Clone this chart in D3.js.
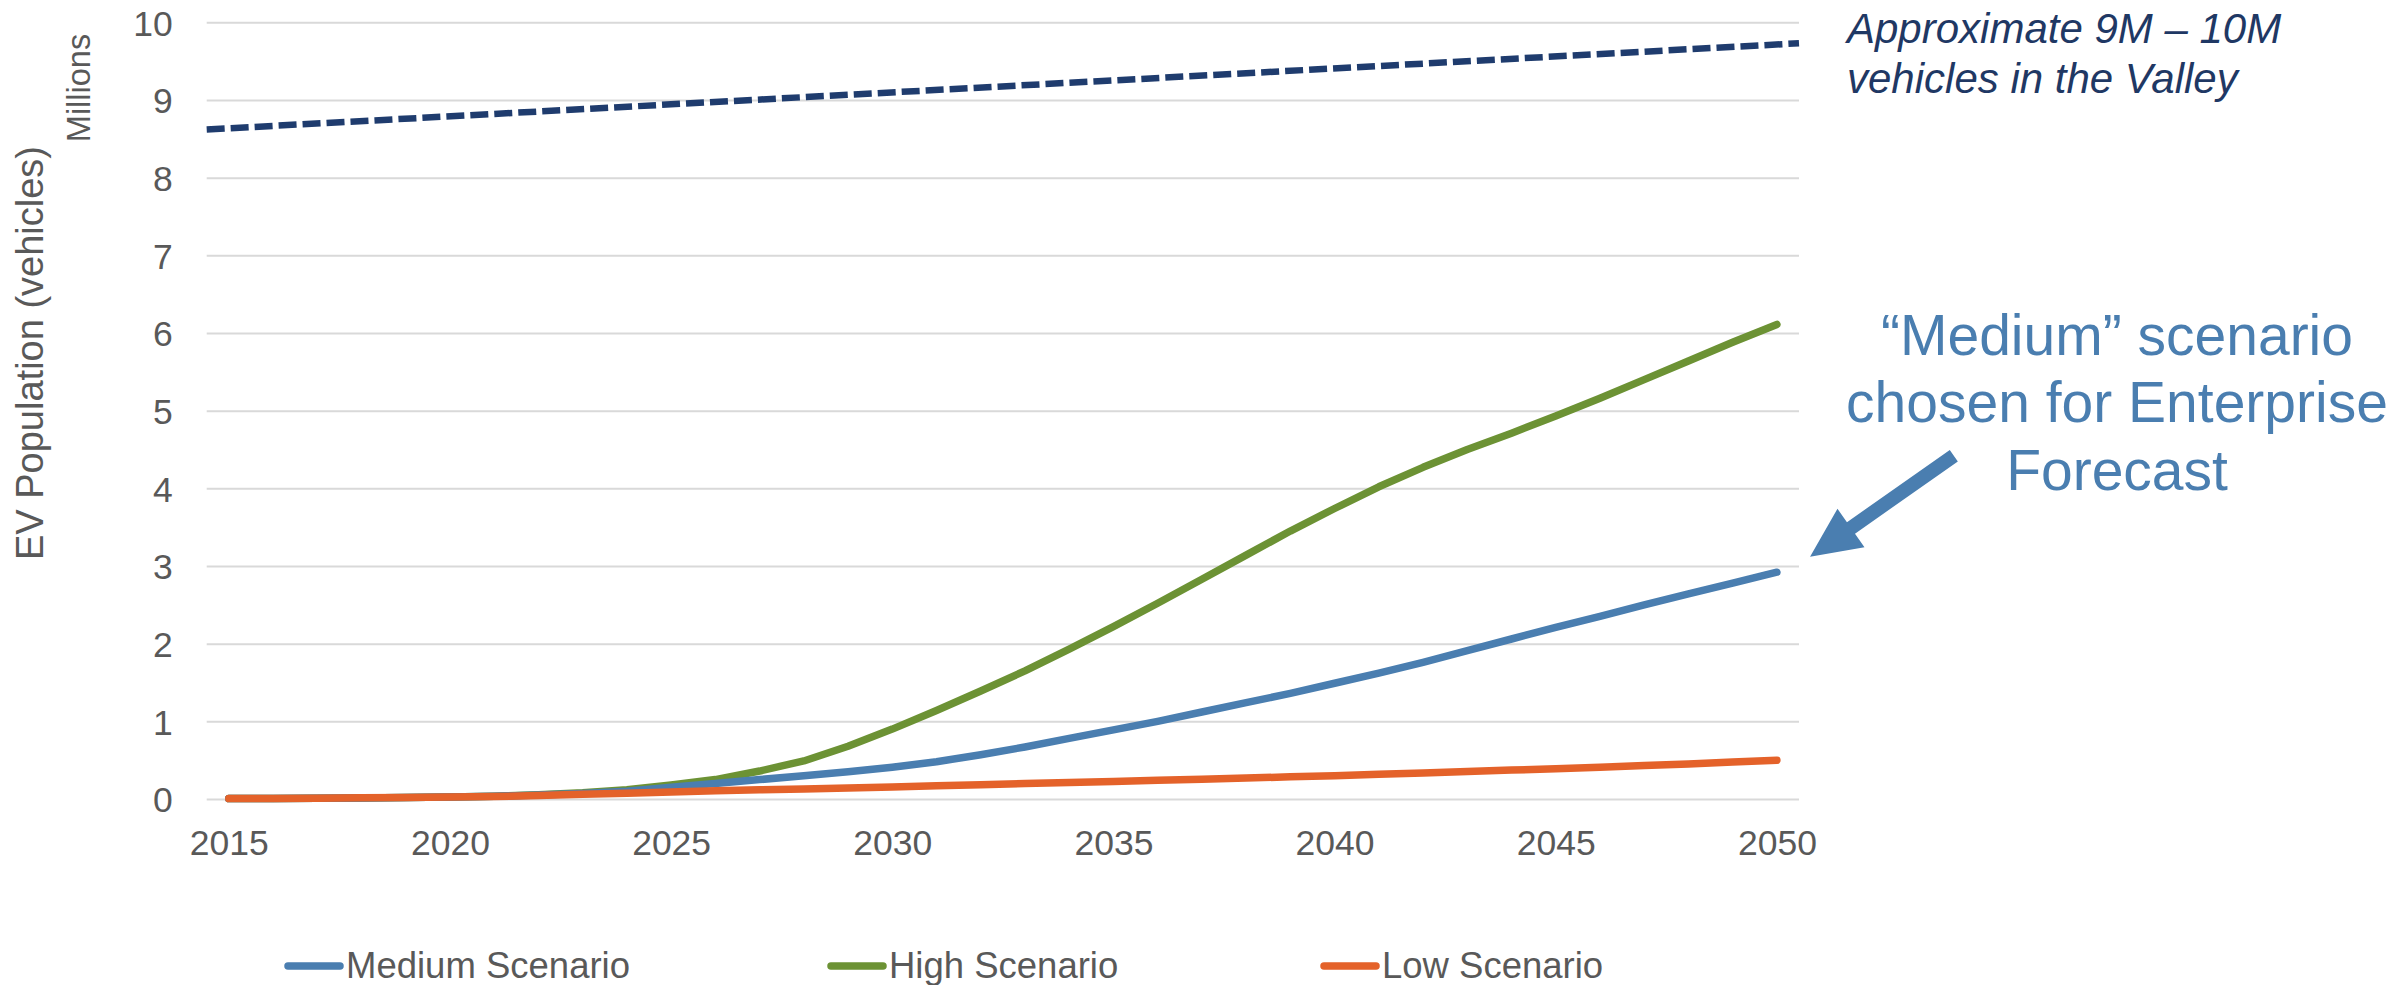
<!DOCTYPE html>
<html>
<head>
<meta charset="utf-8">
<script src="https://cdn.jsdelivr.net/npm/d3@7"></script>
<style>
  html, body { margin: 0; padding: 0; background: #ffffff; }
  svg { display: block; font-family: "Liberation Sans", Arial, sans-serif; }
</style>
</head>
<body>
<svg id="chart" width="2407" height="985"></svg>
<script>
// Forecast years (category axis)
const years = [2015, 2016, 2017, 2018, 2019, 2020, 2021, 2022, 2023, 2024,
               2025, 2026, 2027, 2028, 2029, 2030, 2031, 2032, 2033, 2034,
               2035, 2036, 2037, 2038, 2039, 2040, 2041, 2042, 2043, 2044,
               2045, 2046, 2047, 2048, 2049, 2050];

// EV population by scenario, millions of vehicles
const mediumScenario = [0.005, 0.007, 0.010, 0.014, 0.019, 0.025, 0.035, 0.050, 0.070, 0.100,
                        0.150, 0.200, 0.250, 0.300, 0.350, 0.410, 0.480, 0.570, 0.670, 0.780,
                        0.890, 1.000, 1.120, 1.240, 1.360, 1.490, 1.620, 1.760, 1.910, 2.060,
                        2.210, 2.350, 2.500, 2.640, 2.780, 2.920];
const highScenario   = [0.005, 0.007, 0.010, 0.014, 0.019, 0.025, 0.035, 0.055, 0.080, 0.120,
                        0.180, 0.250, 0.360, 0.490, 0.680, 0.900, 1.140, 1.390, 1.650, 1.930,
                        2.220, 2.520, 2.830, 3.140, 3.450, 3.740, 4.020, 4.270, 4.500, 4.710,
                        4.930, 5.160, 5.400, 5.640, 5.880, 6.110];
const lowScenario    = [0.005, 0.008, 0.011, 0.015, 0.020, 0.025, 0.032, 0.045, 0.060, 0.075,
                        0.090, 0.105, 0.118, 0.130, 0.142, 0.155, 0.170, 0.185, 0.198, 0.212,
                        0.226, 0.240, 0.255, 0.270, 0.285, 0.300, 0.318, 0.336, 0.354, 0.372,
                        0.390, 0.410, 0.430, 0.450, 0.475, 0.500];

// Total vehicles in the Valley (reference line across the plot), millions
const valleyYears  = [2014.5, 2050.5];
const valleyTotals = [8.62, 9.73];

// Axis ticks
const yTicks = [0, 1, 2, 3, 4, 5, 6, 7, 8, 9, 10];
const xTickYears = [2015, 2020, 2025, 2030, 2035, 2040, 2045, 2050];

const seriesNames  = ["Medium Scenario", "High Scenario", "Low Scenario"];
const seriesColors = ["#4a7eb0", "#6c9234", "#e4622a"];
const seriesValues = [mediumScenario, highScenario, lowScenario];

const svg = d3.select("#chart");
const textGray = "#595959";
const plot = { left: 206.7, right: 1799, top: 22.3, bottom: 799 };

const x = d3.scaleLinear().domain([2014.5, 2050.5]).range([plot.left, plot.right]);
const y = d3.scaleLinear().domain([0, 10]).range([plot.bottom, plot.top]);

// Horizontal gridlines
const grid = svg.append("g")
  .attr("transform", `translate(${plot.left},0)`)
  .call(d3.axisRight(y).tickValues(yTicks).tickSize(plot.right - plot.left).tickFormat(""));
grid.select(".domain").remove();
grid.selectAll("line").attr("stroke", "#d9d9d9").attr("stroke-width", 2);

// Y axis labels
const yAxis = svg.append("g")
  .attr("transform", `translate(${plot.left},0)`)
  .call(d3.axisLeft(y).tickValues(yTicks).tickSize(0).tickPadding(34).tickFormat(d3.format("d")));
yAxis.select(".domain").remove();
yAxis.selectAll("text")
  .attr("fill", textGray).attr("font-size", 35.5)
  .attr("font-family", "Liberation Sans, Arial, sans-serif")
  .attr("dy", "0.36em");

// X axis labels
const xAxis = svg.append("g")
  .attr("transform", `translate(0,${plot.bottom})`)
  .call(d3.axisBottom(x).tickValues(xTickYears).tickSize(0).tickFormat(d3.format("d")));
xAxis.select(".domain").remove();
xAxis.selectAll("text")
  .attr("fill", textGray).attr("font-size", 35.5)
  .attr("font-family", "Liberation Sans, Arial, sans-serif")
  .attr("y", 56).attr("dy", null);

// Axis titles
svg.append("text")
  .attr("transform", "translate(43,353) rotate(-90)")
  .attr("text-anchor", "middle")
  .attr("fill", textGray).attr("font-size", 38)
  .text("EV Population (vehicles)");

svg.append("text")
  .attr("transform", "translate(90,88) rotate(-90)")
  .attr("text-anchor", "middle")
  .attr("fill", textGray).attr("font-size", 32.5)
  .text("Millions");

// Valley total reference line (dashed)
const valleyLine = d3.line().x((d, i) => x(valleyYears[i])).y(d => y(d));
svg.append("path")
  .datum(valleyTotals)
  .attr("d", valleyLine)
  .attr("fill", "none")
  .attr("stroke", "#1f3c6e")
  .attr("stroke-width", 6.5)
  .attr("stroke-dasharray", "18 6");

// Scenario lines
const line = d3.line().x((d, i) => x(years[i])).y(d => y(d));
// draw order: high, medium, low so low sits on top near zero
[1, 0, 2].forEach(k => {
  svg.append("path")
    .datum(seriesValues[k])
    .attr("d", line)
    .attr("fill", "none")
    .attr("stroke", seriesColors[k])
    .attr("stroke-width", 7.5)
    .attr("stroke-linecap", "round")
    .attr("stroke-linejoin", "round");
});

// Annotation: valley vehicle total
const valleyNote = svg.append("text")
  .attr("x", 1847).attr("y", 43)
  .attr("fill", "#1f3864").attr("font-size", 42).attr("font-style", "italic");
valleyNote.append("tspan").attr("x", 1847).attr("y", 43).text("Approximate 9M \u2013 10M");
valleyNote.append("tspan").attr("x", 1847).attr("y", 93).text("vehicles in the Valley");

// Annotation: chosen scenario
const noteColor = "#4a7eb0";
const note = svg.append("text")
  .attr("text-anchor", "middle")
  .attr("fill", noteColor).attr("font-size", 57);
[["\u201CMedium\u201D scenario", 355], ["chosen for Enterprise", 422], ["Forecast", 490]]
  .forEach(([t, yy]) => note.append("tspan").attr("x", 2117).attr("y", yy).text(t));

// Arrow pointing at the medium scenario end point
const tail = [x(2054.0), y(4.42)];
const tip = [x(2050.75), y(3.12)];
const dx = tip[0] - tail[0], dy = tip[1] - tail[1];
const len = Math.hypot(dx, dy);
const ux = dx / len, uy = dy / len, px = -uy, py = ux;
const shaftHalf = 7, headHalf = 23.5, headLen = 50;
const bx = tip[0] - ux * headLen, by = tip[1] - uy * headLen;
const arrowPts = [
  [tail[0] + px * shaftHalf, tail[1] + py * shaftHalf],
  [bx + px * shaftHalf, by + py * shaftHalf],
  [bx + px * headHalf, by + py * headHalf],
  tip,
  [bx - px * headHalf, by - py * headHalf],
  [bx - px * shaftHalf, by - py * shaftHalf],
  [tail[0] - px * shaftHalf, tail[1] - py * shaftHalf]
];
svg.append("path")
  .attr("d", "M" + arrowPts.map(p => p.join(",")).join("L") + "Z")
  .attr("fill", noteColor);

// Legend
const legendX = [285, 828, 1321];
const legend = svg.append("g");
seriesNames.forEach((name, i) => {
  const g = legend.append("g").attr("transform", `translate(${legendX[i]},966)`);
  g.append("line")
    .attr("x1", 3).attr("x2", 55).attr("y1", 0).attr("y2", 0)
    .attr("stroke", seriesColors[i]).attr("stroke-width", 7.5)
    .attr("stroke-linecap", "round");
  g.append("text")
    .attr("x", 61).attr("y", 11.5)
    .attr("fill", textGray).attr("font-size", 36.5)
    .text(name);
});
</script>
</body>
</html>
